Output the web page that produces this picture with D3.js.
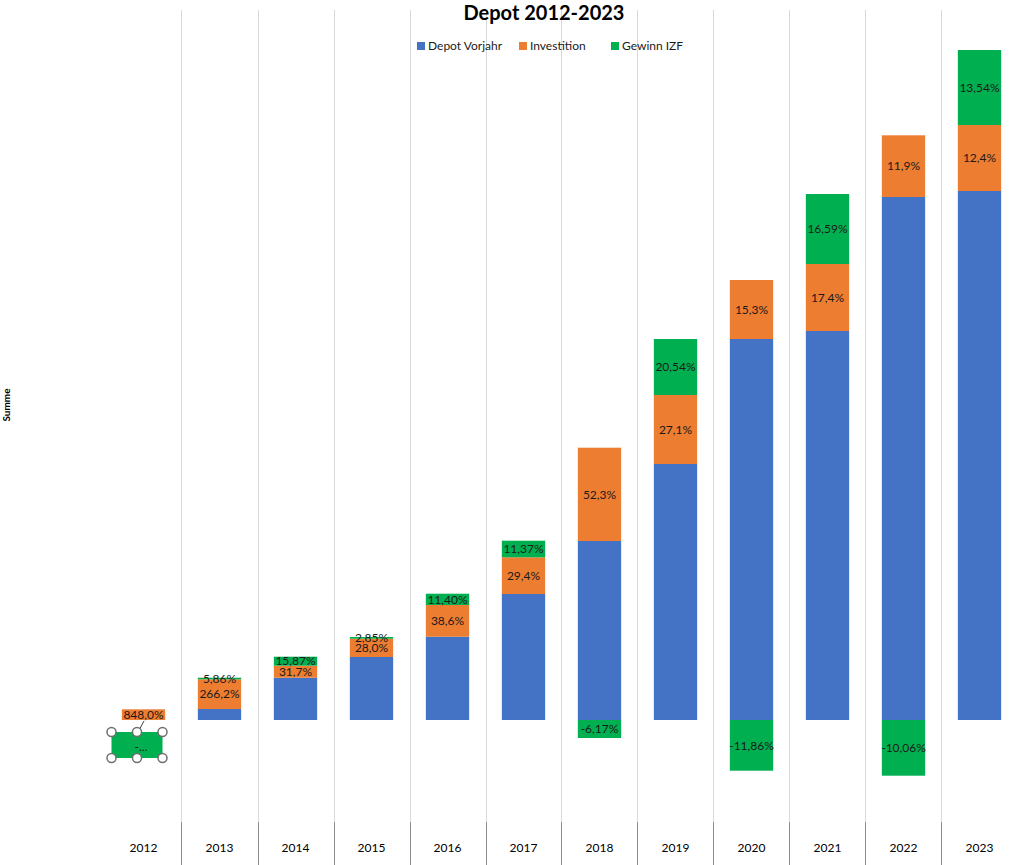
<!DOCTYPE html>
<html>
<head>
<meta charset="utf-8">
<script src="https://cdn.jsdelivr.net/npm/d3@7"></script>
<style>
  body { margin: 0; background: #fff; }
  svg { display: block; font-family: Lato, "Open Sans", sans-serif; }
</style>
</head>
<body>
<svg id="chart" width="1036" height="865"></svg>
<script>
(function() {
    var width = 1036, height = 865

    // values in Euro
    const years = ["2012", "2013", "2014", "2015", "2016", "2017", "2018", "2019", "2020", "2021", "2022", "2023"];
    const depotVorjahr = [0, 1100, 4230, 6300, 8330, 12600, 17900, 25600, 38100, 38900, 52300, 52900];
    const investition = [1070, 2970, 1200, 1830, 3170, 3670, 9330, 6900, 5900, 6700, 6170, 6600];
    const gewinn = [0, 160, 900, 170, 1130, 1660, -1800, 5600, -5070, 7000, -5570, 7500];

    const investLabels = ["848,0%", "266,2%", "31,7%", "28,0%", "38,6%", "29,4%", "52,3%", "27,1%", "15,3%", "17,4%", "11,9%", "12,4%"];
    const gewinnLabels = ["-...", "5,86%", "15,87%", "2,85%", "11,40%", "11,37%", "-6,17%", "20,54%", "-11,86%", "16,59%", "-10,06%", "13,54%"];

    const seriesNames = ["Depot Vorjahr", "Investition", "Gewinn IZF"];
    const colors = ["#4472C4", "#ED7D31", "#00B050"];

    const rows = years.map((y, i) => ({
        year: y,
        "Depot Vorjahr": depotVorjahr[i],
        "Investition": investition[i],
        "Gewinn IZF": gewinn[i]
    }));

    const labels = { "Investition": investLabels, "Gewinn IZF": gewinnLabels };

    const stacked = d3.stack()
    .keys(seriesNames)
    .offset(d3.stackOffsetDiverging)(rows);

    let x = d3.scaleBand()
    .domain(years)
    .range([105.5, 1017.5])
    .paddingInner(0.43)
    .paddingOuter(0.215);

    let y = d3.scaleLinear()
    .domain([0, 70000])
    .range([720, 20]);

    const svg = d3.select("#chart");

    // vertical gridlines between categories
    const bounds = years.slice(1).map((d) => x(d) - x.step() * x.paddingInner() / 2);
    svg.append('g')
    .selectAll("line")
    .data(bounds)
    .join("line")
    .attr("x1", (d) => Math.round(d) + 0.5)
    .attr("x2", (d) => Math.round(d) + 0.5)
    .attr("y1", 10)
    .attr("y2", 822)
    .attr("stroke", "#d9d9d9")
    .attr("stroke-width", 1);

    // category axis ticks below the plot
    svg.append('g')
    .selectAll("line")
    .data(bounds)
    .join("line")
    .attr("x1", (d) => Math.round(d) + 0.5)
    .attr("x2", (d) => Math.round(d) + 0.5)
    .attr("y1", 822)
    .attr("y2", 865)
    .attr("stroke", "#8c8c8c")
    .attr("stroke-width", 1);

    svg.append('g')
    .selectAll("text")
    .data(years)
    .join("text")
    .attr("x", (d) => x(d) + x.bandwidth() / 2)
    .attr("y", 852)
    .attr("text-anchor", "middle")
    .attr("font-size", "12px")
    .attr("fill", "#000")
    .text((d) => d);

    // stacked bars
    const groups = svg.append('g')
    .selectAll("g")
    .data(stacked)
    .join("g")
    .attr("fill", (d, i) => colors[i]);

    groups.selectAll("rect")
    .data((d) => d)
    .join("rect")
    .attr("x", (d) => x(d.data.year))
    .attr("width", x.bandwidth())
    .attr("y", (d) => y(Math.max(d[0], d[1])))
    .attr("height", (d) => Math.abs(y(d[0]) - y(d[1])));

    // data labels (skip the 2012 profit label, it is drawn moved below)
    stacked.filter((s) => labels[s.key]).forEach((s) => {
        svg.append('g')
        .selectAll("text")
        .data(s.filter((d) => !(s.key == "Gewinn IZF" && d.data.year == "2012")))
        .join("text")
        .attr("x", (d) => x(d.data.year) + x.bandwidth() / 2)
        .attr("y", (d) => (y(d[0]) + y(d[1])) / 2)
        .attr("dy", "0.35em")
        .attr("text-anchor", "middle")
        .attr("font-size", "12px")
        .attr("fill", "#1a1a1a")
        .text((d) => labels[s.key][years.indexOf(d.data.year)]);
    });

    // the moved, selected label of 2012
    const cx = x("2012") + x.bandwidth() / 2;
    const box = { x: cx - 32, y: y(0) + 12, w: 51, h: 26 };
    const sel = svg.append('g');
    sel.append("line")
    .attr("x1", cx + 0.5)
    .attr("y1", y(0) + 1)
    .attr("x2", box.x + box.w / 2 + 1)
    .attr("y2", box.y)
    .attr("stroke", "#404040")
    .attr("stroke-width", 1);
    sel.append("rect")
    .attr("x", box.x)
    .attr("y", box.y)
    .attr("width", box.w)
    .attr("height", box.h)
    .attr("fill", "#00B050");
    sel.append("text")
    .attr("x", box.x + box.w / 2 + 4)
    .attr("y", box.y + box.h / 2 + 2)
    .attr("dy", "0.35em")
    .attr("text-anchor", "middle")
    .attr("font-size", "12px")
    .attr("fill", "#1a1a1a")
    .text(gewinnLabels[0]);
    const handles = [[0, 0], [0.5, 0], [1, 0], [0, 1], [0.5, 1], [1, 1]];
    sel.selectAll("circle")
    .data(handles)
    .join("circle")
    .attr("cx", (d) => box.x + d[0] * box.w)
    .attr("cy", (d) => box.y + d[1] * box.h)
    .attr("r", 4.5)
    .attr("fill", "#fff")
    .attr("stroke", "#6e6e6e")
    .attr("stroke-width", 1.5);

    // title
    svg.append("text")
    .attr("x", 544)
    .attr("y", 20)
    .attr("text-anchor", "middle")
    .attr("font-size", "20px")
    .attr("font-weight", "bold")
    .attr("fill", "#000")
    .text("Depot 2012-2023");

    // legend
    const legendX = [417, 519, 611];
    const legend = svg.append('g')
    .selectAll("g")
    .data(seriesNames)
    .join("g")
    .attr("transform", (d, i) => `translate(${legendX[i]},46)`);
    legend.append("rect")
    .attr("x", 0)
    .attr("y", -4)
    .attr("width", 8)
    .attr("height", 8)
    .attr("fill", (d, i) => colors[i]);
    legend.append("text")
    .attr("x", 11)
    .attr("dy", "0.35em")
    .attr("font-size", "12px")
    .attr("fill", "#1a1a1a")
    .text((d) => d);

    // y axis title
    svg.append("text")
    .attr("transform", "translate(10,405) rotate(-90)")
    .attr("text-anchor", "middle")
    .attr("font-size", "10px")
    .attr("font-weight", "bold")
    .attr("fill", "#000")
    .text("Summe");
})()
</script>
</body>
</html>
